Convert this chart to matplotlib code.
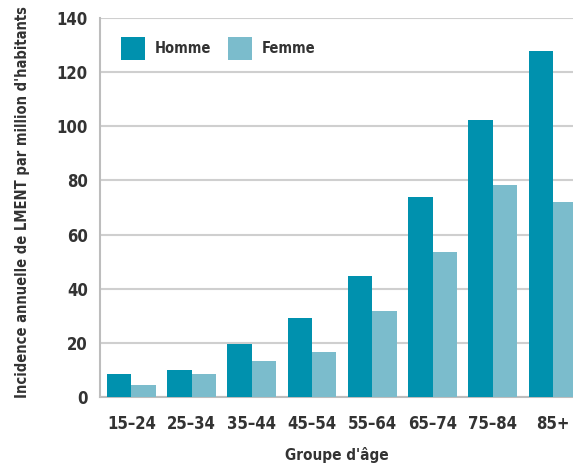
import numpy as np
import matplotlib.pyplot as plt

plt.rcParams['font.family'] = ['DejaVu Sans']
plt.rcParams['font.stretch'] = 'condensed'

# data
groups = ['15–24', '25–34', '35–44', '45–54', '55–64', '65–74', '75–84', '85+']
homme = [8.3, 9.9, 19.7, 29.1, 44.8, 73.9, 102.3, 127.8]
femme = [4.4, 8.3, 13.3, 16.6, 31.9, 53.6, 78.3, 71.9]

c_homme = '#0091AE'
c_femme = '#7BBCCC'
txt = '#333333'

fig = plt.figure(figsize=(5.73, 4.67), dpi=100)
ax = fig.add_axes([0.175, 0.15, 0.825, 0.8115])

x = np.arange(len(groups))
w = 0.405
ax.bar(x - w / 2, homme, w, color=c_homme, label='Homme', zorder=3)
ax.bar(x + w / 2, femme, w, color=c_femme, label='Femme', zorder=3)

ax.set_ylim(0, 140)
ax.set_xlim(-0.515, 7.33)
ax.set_yticks(range(0, 141, 20))
ax.set_xticks(x)
ax.set_xticklabels(groups)
ax.yaxis.grid(True, color='#cfcfcf', lw=1.5, zorder=0)
ax.set_axisbelow(True)

for s in ['top', 'right']:
    ax.spines[s].set_visible(False)
for s in ['left', 'bottom']:
    ax.spines[s].set_color('#bdbdbd')
    ax.spines[s].set_linewidth(1.5)

ax.tick_params(length=0, labelsize=12, labelcolor=txt)
ax.tick_params(axis='x', pad=13)
ax.tick_params(axis='y', pad=9)
for lab in ax.get_xticklabels() + ax.get_yticklabels():
    lab.set_fontweight('bold')

ax.set_xlabel("Groupe d'âge", fontsize=11, fontweight='bold', color=txt, labelpad=10)
ax.set_ylabel("Incidence annuelle de LMENT par million d'habitants", fontsize=10.5,
              fontweight='bold', color=txt)
ax.yaxis.set_label_coords(-0.148, 0.515)

leg = ax.legend(loc='upper left', ncol=2, frameon=False, fontsize=10.5,
                bbox_to_anchor=(0.016, 0.985), handlelength=1.65, handleheight=2.1,
                columnspacing=1.1, handletextpad=0.7)
for t in leg.get_texts():
    t.set_fontweight('bold')
    t.set_color(txt)

fig.savefig('out.png', dpi=100)
